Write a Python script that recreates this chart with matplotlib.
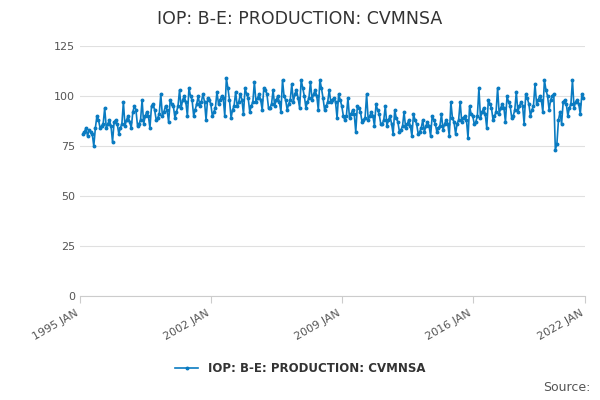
import matplotlib
matplotlib.use("Agg")
import matplotlib.pyplot as plt
import numpy as np
import pandas as pd

start = "1995-03"
values = [
 81,82,84,80,83,82,81,75,84,90,88,84,   # 1995
 85,86,94,84,86,88,85,77,87,88,86,81,   # 1996
 84,86,97,85,88,90,87,84,92,95,93,85,   # 1997
 86,88,98,86,90,92,90,84,95,96,93,88,   # 1998
 89,91,101,90,92,95,93,87,98,96,95,89,  # 1999
 92,95,103,94,98,100,97,90,104,100,98,90,  # 2000
 93,96,100,95,97,101,97,88,99,98,96,90,    # 2001
 92,94,102,96,98,100,99,90,109,104,98,89,  # 2002
 93,95,102,95,97,101,98,91,104,101,99,92,  # 2003
 95,97,107,97,99,101,98,93,104,103,101,94, # 2004
 94,96,103,95,98,100,97,92,108,100,98,93,  # 2005
 96,98,106,97,101,103,99,94,108,104,100,94,# 2006
 97,99,107,98,101,103,100,93,108,104,99,93,# 2007
 95,97,103,97,98,99,97,89,101,98,95,90,    # 2008
 88,90,99,89,91,93,91,82,95,94,92,87,      # 2009
 88,89,101,88,90,92,90,85,96,93,91,86,     # 2010
 86,88,95,85,88,90,86,81,93,89,87,82,      # 2011
 83,85,92,84,86,88,85,80,91,88,86,81,      # 2012
 82,84,88,82,85,87,85,80,90,88,86,82,      # 2013
 84,85,91,83,86,88,86,80,97,89,87,81,      # 2014
 86,88,97,87,89,90,88,79,95,91,90,86,      # 2015
 87,90,104,89,92,94,91,84,98,96,94,88,     # 2016
 90,92,104,91,94,96,94,87,100,97,95,89,    # 2017
 90,93,102,92,95,97,95,86,101,99,96,90,    # 2018
 93,95,106,96,98,100,98,92,108,103,100,93, # 2019
 98,100,101,73,76,88,92,86,97,98,96,90,    # 2020
 94,96,108,94,97,98,96,91,101,99,         # 2021
]
dates = pd.date_range(start, periods=len(values), freq="MS")
series_name = "IOP: B-E: PRODUCTION: CVMNSA"
xticks = ["1995-01-01", "2002-01-01", "2009-01-01", "2016-01-01", "2022-01-01"]
xticklabels = ["1995 JAN", "2002 JAN", "2009 JAN", "2016 JAN", "2022 JAN"]

color = "#0a7bc1"
fig = plt.figure(figsize=(6, 4), dpi=100)
ax = fig.add_axes([0.133, 0.26, 0.842, 0.625])
ax.plot(dates, values, color=color, lw=1.2, marker="o", ms=1.8, label=series_name)
ax.set_ylim(0, 125)
ax.set_yticks([0, 25, 50, 75, 100, 125])
ax.set_xlim(pd.Timestamp("1995-01-01"), pd.Timestamp("2022-01-01"))
ax.set_xticks(pd.to_datetime(xticks))
ax.set_xticklabels(xticklabels, rotation=30, ha="right", fontsize=8, color="#555555")
ax.tick_params(axis="y", labelsize=8, colors="#555555", length=0)
ax.tick_params(axis="x", length=5, color="#cccccc")
ax.grid(axis="y", color="#e0e0e0", lw=0.8)
for s in ["top", "right", "left"]:
    ax.spines[s].set_visible(False)
ax.spines["bottom"].set_color("#cccccc")
fig.suptitle("IOP: B-E: PRODUCTION: CVMNSA", y=0.975, fontsize=12.5, color="#333333")
fig.legend(loc="lower center", bbox_to_anchor=(0.5, 0.035), frameon=False,
           prop={"weight": "bold", "size": 8.5}, labelcolor="#333333")
fig.text(0.985, 0.015, "Source:", ha="right", va="bottom", fontsize=9, color="#555555")
fig.savefig("out.png")
